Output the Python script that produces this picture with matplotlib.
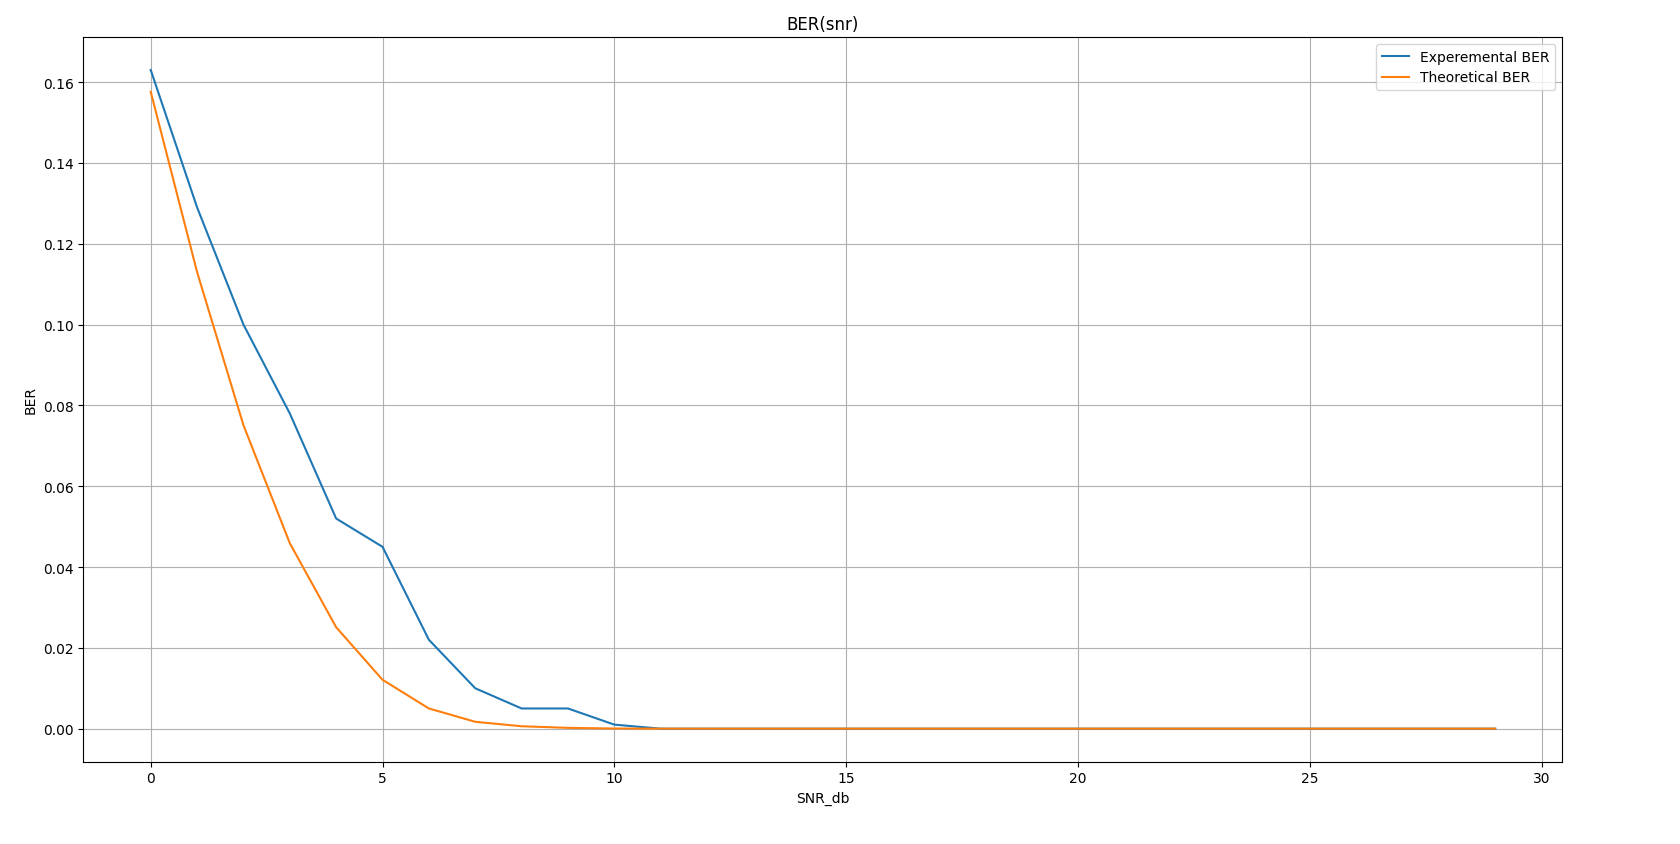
import matplotlib
matplotlib.use('Agg')
import matplotlib.pyplot as plt

# SNR in dB, 0..29
snr_db = list(range(30))

# BER values
ber_exp = [0.163, 0.129, 0.100, 0.078, 0.052, 0.045, 0.022, 0.010, 0.005, 0.005,
           0.001, 0.0, 0.0, 0.0, 0.0, 0.0, 0.0, 0.0, 0.0, 0.0,
           0.0, 0.0, 0.0, 0.0, 0.0, 0.0, 0.0, 0.0, 0.0, 0.0]
ber_theory = [0.1576, 0.1130, 0.0751, 0.0459, 0.0251, 0.0121, 0.0050, 0.0017, 0.0006, 0.0002,
              0.00004, 0.000005, 0.0, 0.0, 0.0, 0.0, 0.0, 0.0, 0.0, 0.0,
              0.0, 0.0, 0.0, 0.0, 0.0, 0.0, 0.0, 0.0, 0.0, 0.0]

fig, ax = plt.subplots(figsize=(16.8, 8.45), dpi=100)
fig.subplots_adjust(left=0.0497, right=0.93, bottom=0.0975, top=0.955)

ax.plot(snr_db, ber_exp, label='Experemental BER')
ax.plot(snr_db, ber_theory, label='Theoretical BER')

ax.set_title('BER(snr)')
ax.set_xlabel('SNR_db')
ax.set_ylabel('BER')
ax.legend(loc='upper right')
ax.grid(True)

fig.savefig('out.png', dpi=100)
